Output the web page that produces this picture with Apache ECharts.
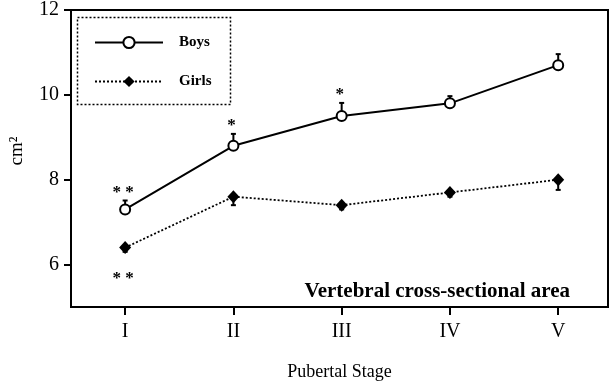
<!DOCTYPE html>
<html>
<head>
<meta charset="utf-8">
<script src="https://cdn.jsdelivr.net/npm/echarts@6/dist/echarts.min.js"></script>
<style>
html,body{margin:0;padding:0;background:#fff;}
#chart{width:613px;height:383px;}
</style>
</head>
<body>
<div id="chart"></div>
<script>
// ---- Data ----
const stages = [1, 2, 3, 4, 5];
const stageLabels = ['I', 'II', 'III', 'IV', 'V'];
const boysMean = [7.3, 8.8, 9.5, 9.8, 10.7];
const boysSE = [0.21, 0.28, 0.31, 0.17, 0.26];
const girlsMean = [6.4, 7.6, 7.4, 7.7, 8.0];
const girlsSE = [0.1, 0.2, 0.1, 0.1, 0.24];
const boysSig = ['* *', '*', '*', '', ''];
const girlsSig = ['* *', '', '', '', ''];
const yTicks = [6, 8, 10, 12];

const FONT = '"Liberation Serif", "Times New Roman", "DejaVu Serif", serif';

const chart = echarts.init(document.getElementById('chart'), null, {renderer: 'canvas'});

function errData(means, ses, dir) {
  return stages.map((s, i) => [s, means[i], ses[i], dir]);
}
const sigLookup = {2: boysSig, 3: girlsSig};

function renderErr(params, api) {
  const x = api.value(0), y = api.value(1), se = api.value(2), dir = api.value(3);
  const sig = sigLookup[params.seriesIndex][params.dataIndex];
  const p0 = api.coord([x, y]);
  const p1 = api.coord([x, y + dir * se]);
  const children = [
    {type: 'line', shape: {x1: p0[0], y1: p0[1], x2: p1[0], y2: p1[1]}, style: {stroke: '#000', lineWidth: 2}},
    {type: 'line', shape: {x1: p1[0] - 2.5, y1: p1[1], x2: p1[0] + 2.5, y2: p1[1]}, style: {stroke: '#000', lineWidth: 2}}
  ];
  if (sig) {
    const ty = dir > 0 ? p1[1] - 12 : p0[1] + 27;
    children.push({
      type: 'text',
      style: {text: sig, x: p0[0] - 2, y: ty + 4, align: 'center', verticalAlign: 'middle',
        font: 'bold 17px ' + FONT, fill: '#000'}
    });
  }
  return {type: 'group', children: children};
}

const option = {
  animation: false,
  backgroundColor: '#fff',
  grid: {left: 71, right: 5, top: 10, bottom: 76, show: true, borderColor: '#000', borderWidth: 2,
    containLabel: false, outerBoundsMode: 'none'},
  xAxis: {
    type: 'value', min: 0.5, max: 5.46,
    name: 'Pubertal Stage', nameLocation: 'middle', nameGap: 56,
    nameTextStyle: {fontFamily: FONT, fontSize: 18, color: '#000'},
    axisLine: {lineStyle: {color: '#000', width: 2}},
    axisTick: {customValues: stages, length: 8, lineStyle: {color: '#000', width: 2}},
    axisLabel: {customValues: stages, formatter: v => stageLabels[Math.round(v) - 1] || '', margin: 15,
      fontFamily: FONT, fontSize: 20, color: '#000'},
    splitLine: {show: false}
  },
  yAxis: {
    type: 'value', min: 5, max: 12, interval: 1,
    name: 'cm²', nameLocation: 'middle', nameGap: 44, nameRotate: 90,
    nameTextStyle: {fontFamily: FONT, fontSize: 19, color: '#000', padding: [0, 0, 0, 15]},
    axisLine: {show: true, lineStyle: {color: '#000', width: 2}},
    axisTick: {show: true, customValues: yTicks, length: 7, lineStyle: {color: '#000', width: 2}},
    axisLabel: {customValues: yTicks, margin: 12, fontFamily: FONT, fontSize: 20, color: '#000'},
    splitLine: {show: false}
  },
  legend: {
    orient: 'vertical', left: 89, top: 30,
    itemWidth: 68, itemHeight: 14, itemGap: 24,
    textStyle: {fontFamily: FONT, fontSize: 15, fontWeight: 'bold', color: '#000', padding: [0, 0, 0, 11]},
    data: ['Boys', 'Girls']
  },
  graphic: [
    {type: 'rect', left: 75, top: 15, shape: {width: 153, height: 87},
      style: {fill: 'none', stroke: '#000', lineWidth: 1.5, lineDash: [2, 2]}, z: 10},
    {type: 'text', right: 43, top: 281,
      style: {text: 'Vertebral cross-sectional area', font: 'bold 21px ' + FONT, fill: '#000'}, z: 10}
  ],
  series: [
    {
      name: 'Boys', type: 'line', z: 5,
      data: stages.map((s, i) => [s, boysMean[i]]),
      symbol: 'circle', symbolSize: 10,
      itemStyle: {color: '#fff', borderColor: '#000', borderWidth: 2},
      lineStyle: {color: '#000', width: 2, type: 'solid'}
    },
    {
      name: 'Girls', type: 'line', z: 5,
      data: stages.map((s, i) => [s, girlsMean[i]]),
      symbol: 'diamond', symbolSize: [12, 13],
      itemStyle: {color: '#000', borderColor: '#000', borderWidth: 0},
      lineStyle: {color: '#000', width: 1.8, type: [2, 2]}
    },
    {type: 'custom', z: 3, renderItem: renderErr, data: errData(boysMean, boysSE, 1), silent: true},
    {type: 'custom', z: 3, renderItem: renderErr, data: errData(girlsMean, girlsSE, -1), silent: true}
  ]
};
chart.setOption(option);
</script>
</body>
</html>
